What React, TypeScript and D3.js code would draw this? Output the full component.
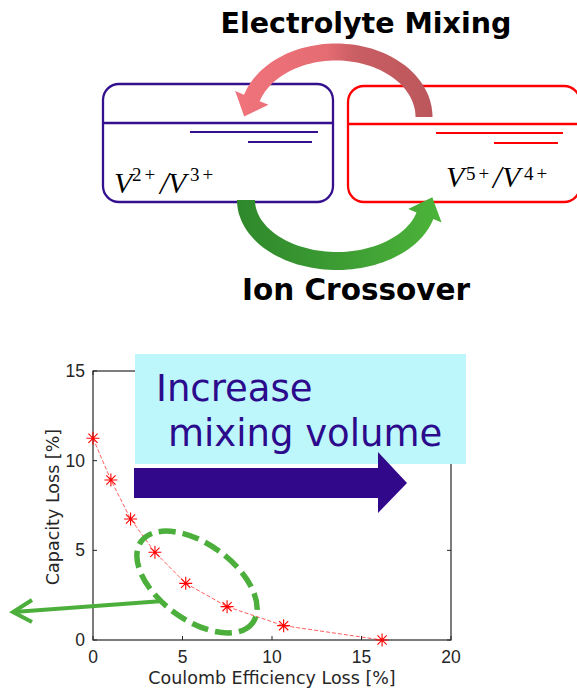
import React from "react";
import * as d3 from "d3";

// Coulomb efficiency loss [%] vs capacity loss [%]
const effLoss = [0, 1.0, 2.1, 3.46, 5.18, 7.49, 10.65, 16.15];
const capLoss = [11.25, 8.92, 6.75, 4.89, 3.16, 1.86, 0.8, 0.0];
const xTicks = [0, 5, 10, 15, 20];
const yTicks = [0, 5, 10, 15];

const W = 577;
const H = 688;

const PURPLE = "#34108f";
const GREEN = "#4caf3c";

// thick curved arrow along an elliptical arc
function arcArrow(
  cx: number, cy: number, rx: number, ry: number, s: number,
  t0: number, t1: number, hw: number, headW: number, headL: number
) {
  const p = (t: number) => [cx + rx * Math.cos(t), cy + s * ry * Math.sin(t)];
  const n = 60;
  const left: number[][] = [];
  const right: number[][] = [];
  let last = { pt: [0, 0], d: [0, 0], nn: [0, 0] };
  for (let i = 0; i <= n; i++) {
    const t = t0 + ((t1 - t0) * i) / n;
    const dt = (t1 - t0) / 1000;
    const a = p(t);
    const b = p(t + dt);
    let dx = b[0] - a[0];
    let dy = b[1] - a[1];
    const len = Math.hypot(dx, dy);
    dx /= len;
    dy /= len;
    const nx = -dy;
    const ny = dx;
    left.push([a[0] + nx * hw, a[1] + ny * hw]);
    right.push([a[0] - nx * hw, a[1] - ny * hw]);
    last = { pt: a, d: [dx, dy], nn: [nx, ny] };
  }
  const { pt, d, nn } = last;
  const w1 = [pt[0] + nn[0] * headW, pt[1] + nn[1] * headW];
  const w2 = [pt[0] - nn[0] * headW, pt[1] - nn[1] * headW];
  const tip = [pt[0] + d[0] * headL, pt[1] + d[1] * headL];
  const pts = [...left, w1, tip, w2, ...right.reverse()];
  return "M" + pts.map((q) => q[0].toFixed(1) + "," + q[1].toFixed(1)).join("L") + "Z";
}

export default function App() {
  const x = d3.scaleLinear().domain([0, 20]).range([93, 451]);
  const y = d3.scaleLinear().domain([0, 15]).range([640, 371]);
  const pts = effLoss.map((e, i) => ({ e, c: capLoss[i] }));
  const line = d3
    .line<{ e: number; c: number }>()
    .x((d) => x(d.e))
    .y((d) => y(d.c));

  const star = "M-6.5,0H6.5M0,-6.5V6.5M-4.6,-4.6L4.6,4.6M-4.6,4.6L4.6,-4.6";
  const tickFont = "Liberation Sans, Arial, sans-serif";
  const labelFont = "DejaVu Sans, Verdana, sans-serif";
  const serif = "Liberation Serif, Times New Roman, serif";

  const redArc = arcArrow(336, 117, 88, 65, -1, 0, (163 * Math.PI) / 180, 8.5, 18, 20);
  const greenArc = arcArrow(337, 200, 91, 61, 1, Math.PI, (15 * Math.PI) / 180, 9, 18, 20);

  return (
    <svg
      width={W}
      height={H}
      style={{ position: "absolute", left: 0, top: 0, background: "#fff" }}
    >
      <defs>
        <linearGradient id="redG" gradientUnits="userSpaceOnUse" x1={240} y1={0} x2={432} y2={0}>
          <stop offset="0" stopColor="#f0737b" />
          <stop offset="0.45" stopColor="#e56c73" />
          <stop offset="0.6" stopColor="#c95e63" />
          <stop offset="1" stopColor="#bb575c" />
        </linearGradient>
        <linearGradient id="greenG" gradientUnits="userSpaceOnUse" x1={240} y1={0} x2={446} y2={0}>
          <stop offset="0" stopColor="#2f892c" />
          <stop offset="0.5" stopColor="#3d9d33" />
          <stop offset="1" stopColor="#4db53a" />
        </linearGradient>
      </defs>

      {/* ---------- schematic ---------- */}
      <text x={366} y={33} textAnchor="middle" fontFamily={labelFont} fontWeight="bold" fontSize={28.5} fill="#000">
        Electrolyte Mixing
      </text>

      <rect x={103} y={84} width={230} height={118} rx={16} fill="none" stroke={PURPLE} strokeWidth={2.3} />
      <line x1={103} x2={332} y1={123} y2={123} stroke={PURPLE} strokeWidth={2.3} />
      <line x1={190} x2={318} y1={132} y2={132} stroke={PURPLE} strokeWidth={2} />
      <line x1={248} x2={312} y1={142} y2={142} stroke={PURPLE} strokeWidth={2} />

      <rect x={348} y={86} width={232} height={116} rx={16} fill="none" stroke="#ff0000" strokeWidth={2.3} />
      <line x1={348} x2={577} y1={124} y2={124} stroke="#ff0000" strokeWidth={2.3} />
      <line x1={436} x2={563} y1={133} y2={133} stroke="#ff0000" strokeWidth={2} />
      <line x1={494} x2={558} y1={143} y2={143} stroke="#ff0000" strokeWidth={2} />

      <g fontFamily={serif} fill="#000">
        <text x={114} y={193} fontSize={30} fontStyle="italic">V</text>
        <text x={132} y={181} fontSize={19} letterSpacing={3}>2+</text>
        <text x={160} y={194} fontSize={31} fontStyle="italic">/</text>
        <text x={168} y={193} fontSize={30} fontStyle="italic">V</text>
        <text x={190} y={181} fontSize={19} letterSpacing={3}>3+</text>

        <text x={446} y={187} fontSize={30} fontStyle="italic">V</text>
        <text x={466} y={180} fontSize={19} letterSpacing={3}>5+</text>
        <text x={493} y={188} fontSize={31} fontStyle="italic">/</text>
        <text x={502} y={187} fontSize={30} fontStyle="italic">V</text>
        <text x={524} y={180} fontSize={19} letterSpacing={3}>4+</text>
      </g>

      <path d={redArc} fill="url(#redG)" />
      <path d={greenArc} fill="url(#greenG)" />

      <text x={356} y={300} textAnchor="middle" fontFamily={labelFont} fontWeight="bold" fontSize={29.5} fill="#000">
        Ion Crossover
      </text>

      {/* ---------- chart ---------- */}
      <rect x={x(0)} y={y(15)} width={x(20) - x(0)} height={y(0) - y(15)} fill="none" stroke="#262626" strokeWidth={1.2} />
      {xTicks.map((t) => (
        <g key={"xt" + t}>
          <line x1={x(t)} x2={x(t)} y1={y(0)} y2={y(0) - 4} stroke="#262626" />
          <line x1={x(t)} x2={x(t)} y1={y(15)} y2={y(15) + 4} stroke="#262626" />
          <text x={x(t)} y={663} textAnchor="middle" fontFamily={tickFont} fontSize={17.5} fill="#262626">
            {t}
          </text>
        </g>
      ))}
      {yTicks.map((t) => (
        <g key={"yt" + t}>
          <line x1={x(0)} x2={x(0) + 4} y1={y(t)} y2={y(t)} stroke="#262626" />
          <line x1={x(20)} x2={x(20) - 4} y1={y(t)} y2={y(t)} stroke="#262626" />
          <text x={85} y={y(t) + 6} textAnchor="end" fontFamily={tickFont} fontSize={17.5} fill="#262626">
            {t}
          </text>
        </g>
      ))}
      <text x={272} y={684} textAnchor="middle" fontFamily={labelFont} fontSize={17.5} fill="#262626">
        Coulomb Efficiency Loss [%]
      </text>
      <text
        transform="translate(59,507) rotate(-90)"
        textAnchor="middle"
        fontFamily={labelFont}
        fontSize={17.5}
        fill="#262626"
      >
        Capacity Loss [%]
      </text>

      <path d={line(pts) || ""} fill="none" stroke="#ff0000" strokeWidth={0.8} strokeDasharray="4,2" opacity={0.8} />
      {pts.map((d, i) => (
        <path key={i} d={star} transform={`translate(${x(d.e)},${y(d.c)})`} stroke="#ff0000" strokeWidth={1.1} fill="none" />
      ))}

      {/* annotation box */}
      <rect x={135} y={354} width={331} height={110} fill="#bdf7fc" />
      <g fontFamily={labelFont} fontSize={37} fill="#2c0a8c">
        <text x={156} y={401}>Increase</text>
        <text x={168} y={446}>mixing volume</text>
      </g>
      <polygon points="134,468 378,468 378,452 407,483 378,513 378,498 134,498" fill="#32088a" />

      <ellipse
        cx={197}
        cy={582}
        rx={69}
        ry={38}
        transform="rotate(36,197,582)"
        fill="none"
        stroke={GREEN}
        strokeWidth={5.5}
        strokeDasharray="17,7"
      />
      <line x1={163} y1={601} x2={14} y2={612} stroke={GREEN} strokeWidth={4} />
      <polyline points="32,600 13,612 32,622" fill="none" stroke={GREEN} strokeWidth={4} strokeLinejoin="miter" />
    </svg>
  );
}
